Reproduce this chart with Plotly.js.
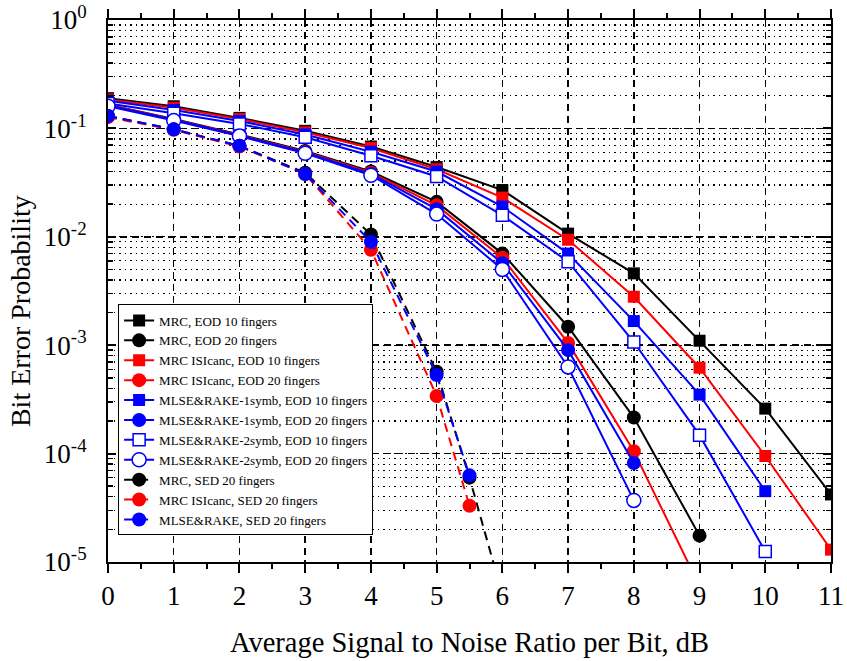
<!DOCTYPE html>
<html>
<head>
<meta charset="utf-8">
<script src="https://cdn.plot.ly/plotly-3.0.1.min.js"></script>
<style>html,body{margin:0;padding:0;background:#fff;}#chart{width:847px;height:661px;}</style>
</head>
<body>
<div id="chart"></div>
<script>
// ---- data ----
const snrEOD = [0, 1, 2, 3, 4, 5, 6, 7, 8, 9, 10, 11];
const snrSED = [0, 1, 2, 3, 4, 5, 5.5, 6];

const mrcEod10      = [0.19, 0.16, 0.125, 0.095, 0.068, 0.044, 0.027, 0.0107, 4.6e-3, 1.1e-3, 2.6e-4, 4.2e-5];
const mrcEod20      = [0.165, 0.122, 0.088, 0.062, 0.040, 0.021, 7.0e-3, 1.48e-3, 2.15e-4, 1.75e-5];
const isiEod10      = [0.185, 0.155, 0.122, 0.092, 0.066, 0.042, 0.023, 9.4e-3, 2.8e-3, 6.2e-4, 9.5e-5, 1.3e-5];
const isiEod20      = [0.165, 0.121, 0.087, 0.061, 0.039, 0.0195, 6.4e-3, 1.05e-3, 1.05e-4, 6.0e-6];
const mlse1Eod10    = [0.18, 0.148, 0.117, 0.088, 0.061, 0.040, 0.019, 7.0e-3, 1.67e-3, 3.5e-4, 4.5e-5];
const mlse1Eod20    = [0.163, 0.120, 0.086, 0.060, 0.038, 0.018, 5.7e-3, 9.0e-4, 8.2e-5];
const mlse2Eod10    = [0.17, 0.138, 0.110, 0.083, 0.056, 0.036, 0.0158, 5.9e-3, 1.07e-3, 1.48e-4, 1.25e-5];
const mlse2Eod20    = [0.16, 0.118, 0.085, 0.059, 0.037, 0.0162, 5.0e-3, 6.3e-4, 3.7e-5];
const mrcSed20      = [0.13, 0.098, 0.069, 0.039, 0.0105, 5.7e-4, 6.0e-5, 5.0e-6];
const isiSed20      = [0.127, 0.097, 0.068, 0.038, 7.6e-3, 3.4e-4, 3.3e-5];
const mlseSed20     = [0.13, 0.098, 0.069, 0.038, 9.0e-3, 5.3e-4, 6.3e-5];

const yTickVals = [1, 0.1, 0.01, 0.001, 0.0001, 0.00001];
const yTickText = ['10<sup>0</sup>', '10<sup>-1</sup>', '10<sup>-2</sup>', '10<sup>-3</sup>', '10<sup>-4</sup>', '10<sup>-5</sup>'];

const BLACK = '#000000', RED = '#ff0000', BLUE = '#0000ff';
const FONT = 'Liberation Serif';

function series(name, x, y, color, symbol, dash, open) {
  return {
    type: 'scatter', mode: 'lines+markers', name: name,
    x: x.slice(0, y.length), y: y,
    line: {color: color, width: 2, dash: dash},
    marker: {
      symbol: symbol, size: symbol === 'square' ? 12 : 14,
      color: open ? '#ffffff' : color,
      line: {color: color, width: open ? 1.5 : 0}
    }
  };
}

const traces = [
  series('MRC, EOD 10 fingers', snrEOD, mrcEod10, BLACK, 'square', 'solid', false),
  series('MRC, EOD 20 fingers', snrEOD, mrcEod20, BLACK, 'circle', 'solid', false),
  series('MRC ISIcanc, EOD 10 fingers', snrEOD, isiEod10, RED, 'square', 'solid', false),
  series('MRC ISIcanc, EOD 20 fingers', snrEOD, isiEod20, RED, 'circle', 'solid', false),
  series('MLSE&RAKE-1symb, EOD 10 fingers', snrEOD, mlse1Eod10, BLUE, 'square', 'solid', false),
  series('MLSE&RAKE-1symb, EOD 20 fingers', snrEOD, mlse1Eod20, BLUE, 'circle', 'solid', false),
  series('MLSE&RAKE-2symb, EOD 10 fingers', snrEOD, mlse2Eod10, BLUE, 'square', 'solid', true),
  series('MLSE&RAKE-2symb, EOD 20 fingers', snrEOD, mlse2Eod20, BLUE, 'circle', 'solid', true),
  series('MRC, SED 20 fingers', snrSED, mrcSed20, BLACK, 'circle', '9px,6px', false),
  series('MRC ISIcanc, SED 20 fingers', snrSED, isiSed20, RED, 'circle', '9px,6px', false),
  series('MLSE&RAKE, SED 20 fingers', snrSED, mlseSed20, BLUE, 'circle', '9px,6px', false)
];

const layout = {
  width: 847, height: 661,
  margin: {l: 108, r: 16, t: 20, b: 99},
  paper_bgcolor: '#ffffff', plot_bgcolor: '#ffffff',
  font: {family: FONT, color: '#000', size: 27},
  showlegend: true,
  legend: {
    x: 0.014, y: 0.262, xanchor: 'left', yanchor: 'middle',
    bgcolor: '#ffffff', bordercolor: '#000', borderwidth: 1,
    font: {family: FONT, size: 13, color: '#000'},
    tracegroupgap: 0
  },
  annotations: [{
    text: 'Bit Error Probability', textangle: -90, showarrow: false,
    xref: 'paper', yref: 'paper', x: -0.1217, y: 0.463,
    xanchor: 'center', yanchor: 'middle',
    font: {family: FONT, size: 28, color: '#000'}
  }],
  xaxis: {
    range: [0, 11], dtick: 1, tick0: 0,
    showline: true, linecolor: '#000', linewidth: 2, mirror: 'ticks',
    ticks: 'outside', ticklen: 9, tickwidth: 2, tickcolor: '#000',
    showgrid: true, gridcolor: '#000', gridwidth: 1.5, griddash: '7px,5px',
    zeroline: false,
    tickfont: {family: FONT, size: 27},
    minor: {dtick: 0.5, ticks: 'outside', ticklen: 5, tickwidth: 2, tickcolor: '#000', showgrid: false},
    title: {text: 'Average Signal to Noise Ratio per Bit, dB', font: {family: FONT, size: 28.5}, standoff: 22}
  },
  yaxis: {
    type: 'log', range: [-5, 0],
    tickvals: yTickVals, ticktext: yTickText,
    showline: true, linecolor: '#000', linewidth: 2, mirror: 'ticks',
    ticks: 'inside', ticklen: 8, tickwidth: 2, tickcolor: '#000',
    ticklabelstandoff: 14,
    showgrid: true, gridcolor: '#000', gridwidth: 1.5, griddash: '7px,5px',
    zeroline: false,
    tickfont: {family: FONT, size: 27},
    minor: {dtick: 'D1', ticks: 'inside', ticklen: 5, tickwidth: 1.5, tickcolor: '#000',
            showgrid: true, gridcolor: '#000', gridwidth: 1.2, griddash: '1.5px,4px'}
  }
};

Plotly.newPlot('chart', traces, layout, {displayModeBar: false, staticPlot: true});
</script>
</body>
</html>
